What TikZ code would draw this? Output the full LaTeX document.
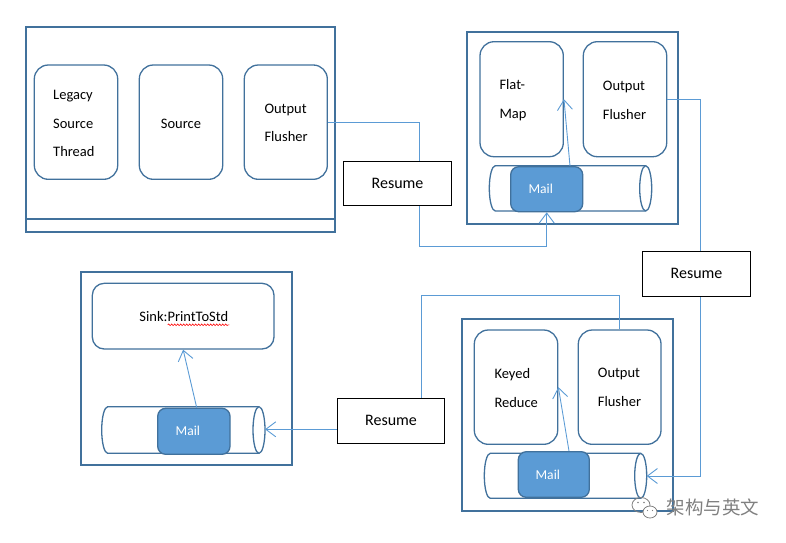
\documentclass[tikz,border=0pt]{standalone}
\usepackage{fontspec}
\setmainfont{Carlito}
\newfontfamily\cjkfont{Noto Sans CJK SC}
\usetikzlibrary{arrows.meta,calc,decorations.pathmorphing}
\definecolor{boxblue}{HTML}{41719C}
\definecolor{linkblue}{HTML}{5B9BD5}
\begin{document}
\begin{tikzpicture}[x=1pt,y=-1pt,
  outer/.style={draw=boxblue,line width=1.8pt,inner sep=0pt},
  rbox/.style={draw=boxblue,line width=1.3pt,rounded corners=14pt,fill=white,inner sep=0pt},
  cyl/.style={draw=boxblue,line width=1.3pt,fill=white},
  mailbox/.style={draw=boxblue,line width=1.3pt,rounded corners=8pt,fill=linkblue,inner sep=0pt,
    text=white,font=\fontsize{13.6}{16}\selectfont},
  resumebox/.style={draw=black,line width=1.1pt,fill=white,inner sep=0pt,font=\fontsize{16}{19}\selectfont},
  lbl/.style={inner sep=0pt,align=left,anchor=west,font=\fontsize{14.5}{28.7}\selectfont},
  conn/.style={draw=linkblue,line width=0.9pt},
  tip/.style={-{Straight Barb[length=10pt,width=15pt]}}
]
\useasboundingbox (0,0) rectangle (786,542);

% outer boxes
\node[outer,minimum width=309.3pt,minimum height=204.4pt] (o1) at (180.35,129.5) {};
\draw[boxblue,line width=1.8pt] (o1.west |- 0,219) -- (o1.east |- 0,219);
\node[outer,minimum width=211.6pt,minimum height=191.7pt] (o2) at (572.5,128.15) {};
\node[outer,minimum width=211.6pt,minimum height=192.7pt] (o3) at (186.5,368.65) {};
\node[outer,minimum width=211pt,minimum height=191.7pt] (o4) at (567.2,415.15) {};

% rounded boxes
\node[rbox,minimum width=83.4pt,minimum height=114.3pt] (legacy) at (76,122.15) {};
\node[rbox,minimum width=83.4pt,minimum height=114.3pt] (source) at (181,122.15) {};
\node[rbox,minimum width=83pt,minimum height=114.3pt] (of1) at (285.8,122.15) {};
\node[rbox,minimum width=83.3pt,minimum height=115pt] (flatmap) at (521.65,99.2) {};
\node[rbox,minimum width=83.4pt,minimum height=115pt] (of2) at (625,99.2) {};
\node[rbox,rounded corners=12pt,minimum width=181.7pt,minimum height=65.7pt] (sink) at (183.15,316.15) {};
\node[rbox,minimum width=83.4pt,minimum height=114.3pt] (keyed) at (516,387.15) {};
\node[rbox,minimum width=82.7pt,minimum height=114.3pt] (of4) at (619.65,387.15) {};

% labels
\node[lbl] (legacytxt) at (53,123.5) {Legacy\\Source\\Thread};
\node[lbl,anchor=center] (sourcetxt) at (181,124) {Source};
\node[lbl] (of1txt) at (264.3,122.7) {Output\\Flusher};
\node[lbl] (flattxt) at (499.3,100.2) {Flat-\\Map};
\node[lbl] (of2txt) at (602.7,100.2) {Output\\Flusher};
\node[lbl] (keyedtxt) at (494.3,387.8) {Keyed\\Reduce};
\node[lbl] (of4txt) at (597.7,387.5) {Output\\Flusher};
\node[lbl,anchor=center] (sinktxt) at (183.8,316.7) {Sink:PrintToStd};
\draw[red,line width=0.6pt,decorate,decoration={snake,amplitude=0.8pt,segment length=3pt}]
  (167.7,324.8) -- (229.3,324.8);

% cylinders (queues)
\draw[cyl] (495.3,165.7) -- (645.7,165.7) arc[start angle=90,end angle=-90,x radius=6pt,y radius=22.65pt]
  -- (495.3,211) arc[start angle=270,end angle=90,x radius=6pt,y radius=22.65pt] -- cycle;
\draw[cyl] (645.7,165.7) arc[start angle=90,end angle=270,x radius=6pt,y radius=22.65pt];
\coordinate (cyl2e) at (651.7,188.35);

\draw[cyl] (107.7,406.7) -- (259,406.7) arc[start angle=90,end angle=-90,x radius=6pt,y radius=23.3pt]
  -- (107.7,453.3) arc[start angle=270,end angle=90,x radius=6pt,y radius=23.3pt] -- cycle;
\draw[cyl] (259,406.7) arc[start angle=90,end angle=270,x radius=6pt,y radius=23.3pt];
\coordinate (cyl3e) at (265,429.3);

\draw[cyl] (490.3,453.3) -- (640.7,453.3) arc[start angle=90,end angle=-90,x radius=6pt,y radius=22.5pt]
  -- (490.3,498.3) arc[start angle=270,end angle=90,x radius=6pt,y radius=22.5pt] -- cycle;
\draw[cyl] (640.7,453.3) arc[start angle=90,end angle=270,x radius=6pt,y radius=22.5pt];
\coordinate (cyl4e) at (646.7,476);

% mails
\node[mailbox,minimum width=72pt,minimum height=45pt] (mail2) at (546.7,189.2) {Mail\kern12pt};
\node[mailbox,minimum width=72.3pt,minimum height=46pt] (mail3) at (193.85,431.3) {Mail\kern12pt};
\node[mailbox,minimum width=71pt,minimum height=45.6pt] (mail4) at (553.8,474.5) {Mail\kern12pt};

% connectors between stages
\draw[conn,tip] (of1.east) -- (419,122.15) -- (419,246.7) -| (mail2.south);
\draw[conn,tip] (of2.east) -- (700,99.2) -- (700,476) -- (cyl4e);
\draw[conn,tip] (of4.north) |- (421.7,295.3) -- (421.7,429.3) -- (cyl3e);

% resume boxes
\node[resumebox,minimum width=108.4pt,minimum height=44pt] (r1) at (397.5,183.3) {Resume};
\node[resumebox,minimum width=108.4pt,minimum height=45pt] (r2) at (696.5,273.8) {Resume};
\node[resumebox,minimum width=107.4pt,minimum height=45pt] (r3) at (391,420.8) {Resume};

% internal arrows
\draw[conn,tip] ($(mail2.north)+(23.3,0)$) -- (flatmap.east);
\draw[conn,tip] ($(mail3.north)+(2.85,0)$) -- (sink.south);
\draw[conn,tip] ($(mail4.north)+(15.2,0)$) -- (keyed.east);

% watermark
\draw[gray,line width=0.8pt] (641,505) ellipse[x radius=9pt,y radius=7.5pt];
\draw[gray,line width=0.8pt,fill=white] (650,512) ellipse[x radius=7pt,y radius=6pt];
\fill[gray] (638,502.5) circle[radius=0.9pt] (644,502.5) circle[radius=0.9pt]
  (647.5,510.5) circle[radius=0.7pt] (652.5,510.5) circle[radius=0.7pt];
\node[inner sep=0pt,text=gray,font=\cjkfont\fontsize{18.5}{20}\selectfont] (wm) at (713,507) {架构与英文};
\end{tikzpicture}
\end{document}
